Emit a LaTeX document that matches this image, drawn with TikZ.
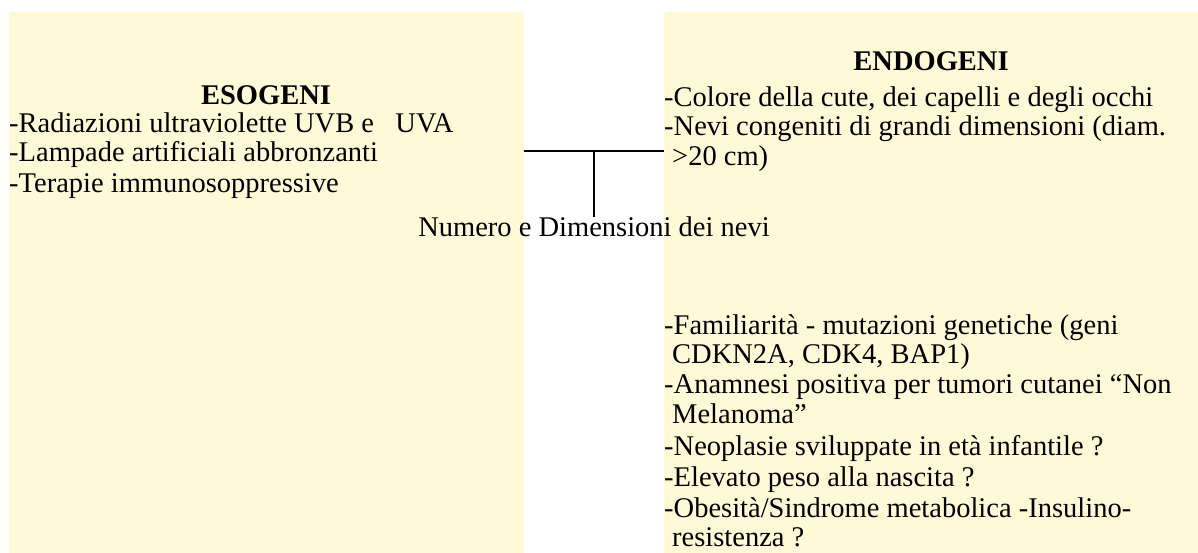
\documentclass[tikz,border=0pt]{standalone}
\usepackage{fontspec}
\setmainfont{Liberation Serif}
\definecolor{boxfill}{RGB}{255,249,215}
\tikzset{
  panel/.style={fill=boxfill, draw=none, inner sep=0pt, anchor=north west},
  line/.style={anchor=base west, inner sep=0pt, font=\fontsize{28.5}{30}\selectfont},
  head/.style={anchor=base, inner sep=0pt, font=\fontsize{28.5}{30}\selectfont\bfseries},
  label/.style={anchor=north, inner sep=0pt, font=\fontsize{28.5}{30}\selectfont},
  conn/.style={draw=black, line width=2.4pt}
}
\begin{document}
\begin{tikzpicture}[x=1pt,y=-1pt]
\useasboundingbox (0,0) rectangle (1198,553);
\node[panel, minimum width=515pt, minimum height=541pt] (esog) at (9,12) {};
\node[panel, minimum width=534pt, minimum height=541pt] (endog) at (664,12) {};
% left texts
\node[head] (h1) at (266,105) {ESOGENI};
\node[line] (l1) at (9,133) {-Radiazioni ultraviolette UVB e\ \ \ UVA};
\node[line] (l2) at (9,162) {-Lampade artificiali abbronzanti};
\node[line] (l3) at (9,193) {-Terapie immunosoppressive};
% right texts
\node[head] (h2) at (931,71) {ENDOGENI};
\node[line] (r1) at (664,107) {-Colore della cute, dei capelli e degli occhi};
\node[line] (r2) at (664,136) {-Nevi congeniti di grandi dimensioni (diam.};
\node[line] (r3) at (672,166) {>20 cm)};
\node[line] (r4) at (664,334) {-Familiarità - mutazioni genetiche (geni};
\node[line] (r5) at (672,363) {CDKN2A, CDK4, BAP1)};
\node[line] (r6) at (664,393) {-Anamnesi positiva per tumori cutanei “Non};
\node[line] (r7) at (672,423) {Melanoma”};
\node[line] (r8) at (664,455) {-Neoplasie sviluppate in età infantile ?};
\node[line] (r9) at (664,486) {-Elevato peso alla nascita ?};
\node[line] (r10) at (664,517) {-Obesità/Sindrome metabolica -Insulino-};
\node[line] (r11) at (672,546) {resistenza ?};
% connector
\node[label] (num) at (594,217) {Numero e Dimensioni dei nevi};
\coordinate (j) at (594,151);
\draw[conn] (j -| esog.east) -- (j -| endog.west);
\draw[conn] (j) -- (num.north);
\end{tikzpicture}
\end{document}
